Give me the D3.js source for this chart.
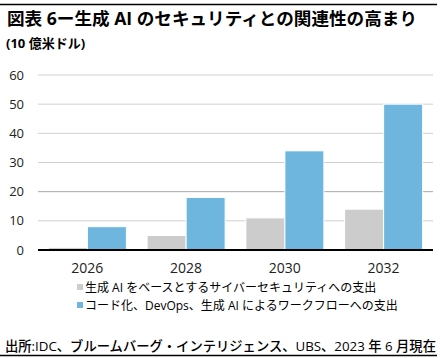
<!DOCTYPE html>
<html>
<head>
<meta charset="utf-8">
<script src="https://cdn.jsdelivr.net/npm/d3@7"></script>
<style>
  body { margin: 0; background: #fff; }
  svg text { font-family: "Open Sans", "Noto Sans CJK JP", sans-serif; }
</style>
</head>
<body>
<div id="root"></div>
<script>
// data
var years = ["2026", "2028", "2030", "2032"];
var securitySpend = [0.9, 5, 11, 14];
var codingSpend = [8, 18, 34, 50];
var seriesNames = ["生成 AI をベースとするサイバーセキュリティへの支出",
                   "コード化、DevOps、生成 AI によるワークフローへの支出"];
var yTicks = [0, 10, 20, 30, 40, 50, 60];

var W = 440, H = 358;
var margin = {top: 75, right: 7, bottom: 108, left: 38},
    width = W - margin.left - margin.right,
    height = H - margin.top - margin.bottom;

var svg = d3.select("#root")
            .append("svg")
            .attr("width", W)
            .attr("height", H);

// title block
svg.append("line").attr("x1", 0).attr("x2", 437).attr("y1", 4.5).attr("y2", 4.5)
   .attr("stroke", "#000").attr("stroke-width", 1.5);
svg.append("text").attr("x", 7).attr("y", 25)
   .style("font-size", "17.6px").style("font-weight", "bold").attr("fill", "#000")
   .text("図表 6ー生成 AI のセキュリティとの関連性の高まり");
svg.append("text").attr("x", 6).attr("y", 48)
   .style("font-size", "13px").style("font-weight", "bold").attr("fill", "#000")
   .text("(10 億米ドル)");

var g = svg.append("g")
           .attr("transform", "translate(" + margin.left + "," + margin.top + ")");

var x0 = d3.scaleBand().domain(years).range([0, width]).paddingInner(0.21).paddingOuter(0.105);
var x1 = d3.scaleBand().domain([0, 1]).range([0, x0.bandwidth()]);
var y = d3.scaleLinear().domain([0, 60]).range([height, 0]);

// grid
g.append("g").selectAll("line").data(yTicks.slice(1)).enter().append("line")
  .attr("x1", 0).attr("x2", width)
  .attr("y1", function (d) { return y(d); }).attr("y2", function (d) { return y(d); })
  .attr("stroke", function (d) { return d === 20 ? "#a8a8a8" : "#d0d0d0"; })
  .attr("stroke-width", 1);

// y labels
g.append("g").selectAll("text").data(yTicks).enter().append("text")
  .attr("x", -14).attr("y", function (d) { return y(d); })
  .attr("dy", "0.35em").attr("text-anchor", "end")
  .style("font-size", "13px").attr("fill", "#222")
  .text(function (d) { return d; });

// bars
var series = [securitySpend, codingSpend];
var colors = ["#cccccc", "#6fb6de"];
series.forEach(function (vals, si) {
  g.append("g").selectAll("rect").data(vals).enter().append("rect")
    .attr("x", function (d, i) { return x0(years[i]) + x1(si); })
    .attr("width", x1.bandwidth())
    .attr("y", function (d) { return y(d); })
    .attr("height", function (d) { return height - y(d); })
    .attr("fill", colors[si])
    .attr("stroke", "#fff").attr("stroke-width", 1);
});

// baseline
g.append("line").attr("x1", 0).attr("x2", width).attr("y1", height).attr("y2", height)
  .attr("stroke", "#000").attr("stroke-width", 2);

// x labels
g.append("g").selectAll("text").data(years).enter().append("text")
  .attr("x", function (d) { return x0(d) + x0.bandwidth() / 2; })
  .attr("y", height + 23)
  .attr("text-anchor", "middle")
  .style("font-size", "14px").attr("fill", "#222")
  .text(function (d) { return d; });

// legend
var legend = svg.append("g").attr("transform", "translate(77,288)");
seriesNames.forEach(function (name, i) {
  legend.append("rect").attr("x", 0).attr("y", i * 18 - 4).attr("width", 6).attr("height", 6)
    .attr("fill", colors[i]);
  legend.append("text").attr("x", 8).attr("y", i * 18).attr("dy", "0.35em")
    .style("font-size", "12px").attr("fill", "#000").text(name);
});

// source
svg.append("text").attr("x", 5).attr("y", 351)
   .style("font-size", "13.3px").style("font-weight", "500").attr("fill", "#000")
   .text("出所:IDC、ブルームバーグ・インテリジェンス、UBS、2023 年 6 月現在");
svg.append("line").attr("x1", 0).attr("x2", 437).attr("y1", 355.5).attr("y2", 355.5)
   .attr("stroke", "#000").attr("stroke-width", 1.5);
</script>
</body>
</html>
